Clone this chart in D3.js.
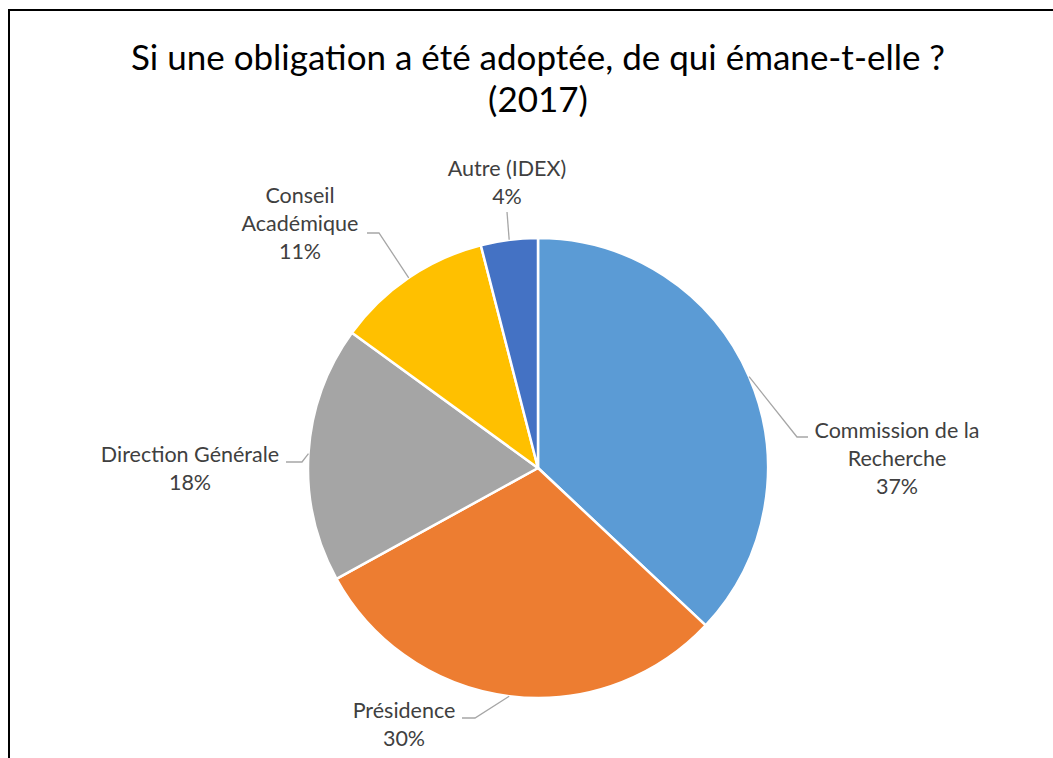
<!DOCTYPE html>
<html lang="fr">
<head>
  <meta charset="utf-8" />
  <title>Obligation 2017</title>
  <script src="https://cdn.jsdelivr.net/npm/d3@7/dist/d3.min.js"></script>
<style>
body {
	margin: 0;
	background: #fff;
}
svg text {
	font-family: Lato, 'Open Sans', sans-serif;
}
.title {
	font-size: 35px;
	fill: #000;
}
.lbl {
	font-size: 21.5px;
	fill: #404040;
}
.leader {
	fill: none;
	stroke: #a6a6a6;
	stroke-width: 1.3px;
}
</style>
</head>
<body>
<svg width="1053" height="758"></svg>
<script>

var categories = ["Commission de la Recherche", "Présidence", "Direction Générale", "Conseil Académique", "Autre (IDEX)"];
var values = [37, 30, 18, 11, 4];
var colours = ["#5b9bd5", "#ed7d31", "#a5a5a5", "#ffc000", "#4472c4"];

// label lines (text split) and layout : label centre x, first baseline y, elbow point
var labelLines = [
	["Commission de la", "Recherche"],
	["Présidence"],
	["Direction Générale"],
	["Conseil", "Académique"],
	["Autre (IDEX)"]
];
var labelLayout = [
	{x: 897, y: 438, elbow: [797, 437], end: [808, 437]},
	{x: 404, y: 718, elbow: [475, 718], end: [462, 718]},
	{x: 190, y: 462, elbow: [302, 462], end: [286, 462]},
	{x: 300, y: 203, elbow: [379, 233], end: [367, 233]},
	{x: 507, y: 176, elbow: [507, 212], end: [507, 212]}
];

var svg = d3.select("svg");
var cx = 538, cy = 468, radius = 230;

// chart frame (cut off on the right and bottom)
svg.append("rect")
	.attr("x", 9).attr("y", 10)
	.attr("width", 1100).attr("height", 800)
	.attr("fill", "none")
	.attr("stroke", "#000")
	.attr("stroke-width", 2);

svg.append("text").attr("class", "title")
	.attr("x", cx).attr("y", 70)
	.attr("text-anchor", "middle")
	.text("Si une obligation a été adoptée, de qui émane-t-elle ?");
svg.append("text").attr("class", "title")
	.attr("x", cx).attr("y", 112)
	.attr("text-anchor", "middle")
	.text("(2017)");

var data = categories.map(function(c, i) { return {name: c, value: values[i], i: i}; });

var pie = d3.pie().sort(null).value(function(d) { return d.value; });
var arc = d3.arc().innerRadius(0).outerRadius(radius);
var arcs = pie(data);

var g = svg.append("g").attr("transform", "translate(" + cx + "," + cy + ")");

g.selectAll("path.slice")
	.data(arcs)
	.enter().append("path")
	.attr("class", "slice")
	.attr("d", arc)
	.attr("fill", function(d) { return colours[d.data.i]; })
	.attr("stroke", "#fff")
	.attr("stroke-width", 2.5)
	.attr("stroke-linejoin", "round");

// leader lines + labels
arcs.forEach(function(d) {
	var a = (d.startAngle + d.endAngle) / 2;
	var sx = cx + radius * Math.sin(a),
		sy = cy - radius * Math.cos(a);
	var L = labelLayout[d.data.i];
	svg.append("polyline")
		.attr("class", "leader")
		.attr("points", [[sx, sy], L.elbow, L.end].map(function(p) { return p.join(","); }).join(" "));

	var lines = labelLines[d.data.i].concat([d.data.value + "%"]);
	var t = svg.append("text").attr("class", "lbl").attr("text-anchor", "middle");
	lines.forEach(function(s, k) {
		t.append("tspan").attr("x", L.x).attr("y", L.y + k * 28).text(s);
	});
});

</script>
</body>
</html>
